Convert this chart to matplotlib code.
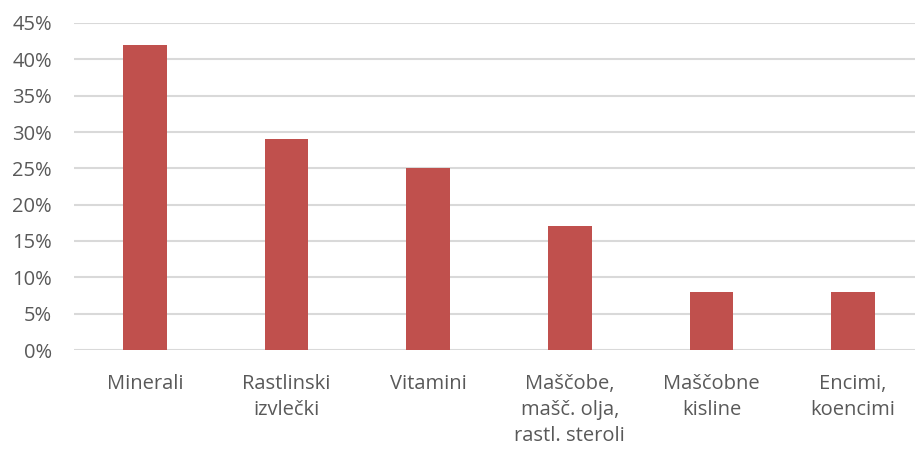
import matplotlib.pyplot as plt
import numpy as np

categories = ["Minerali", "Rastlinski\nizvlečki", "Vitamini",
              "Maščobe,\nmašč. olja,\nrastl. steroli", "Maščobne\nkisline",
              "Encimi,\nkoencimi"]
values = [0.42, 0.29, 0.25, 0.17, 0.08, 0.08]
yticks = [0, 0.05, 0.10, 0.15, 0.20, 0.25, 0.30, 0.35, 0.40, 0.45]
ytick_labels = ["0%", "5%", "10%", "15%", "20%", "25%", "30%", "35%", "40%", "45%"]

plt.rcParams['font.family'] = ['Open Sans', 'DejaVu Sans']

fig = plt.figure(figsize=(9.15, 4.5), dpi=100)
ax = fig.add_axes([74 / 915, 100 / 450, 850 / 915, 327 / 450])

x = np.arange(len(categories))
ax.bar(x, values, width=0.31, color="#C0504D", zorder=3)

ax.set_xlim(-0.5, len(categories) - 0.5)
ax.set_ylim(0, 0.45)
ax.set_yticks(yticks)
ax.set_yticklabels(ytick_labels)
ax.set_xticks(x)
ax.set_xticklabels(categories, linespacing=1.42)

ax.grid(axis="y", color="#D9D9D9", linewidth=1.5, zorder=0)
ax.set_axisbelow(True)
for s in ax.spines.values():
    s.set_visible(False)
ax.tick_params(axis="both", length=0, colors="#595959", labelsize=14.5)
ax.tick_params(axis="x", pad=17)
ax.tick_params(axis="y", pad=16)

fig.savefig("out.png", dpi=100)
